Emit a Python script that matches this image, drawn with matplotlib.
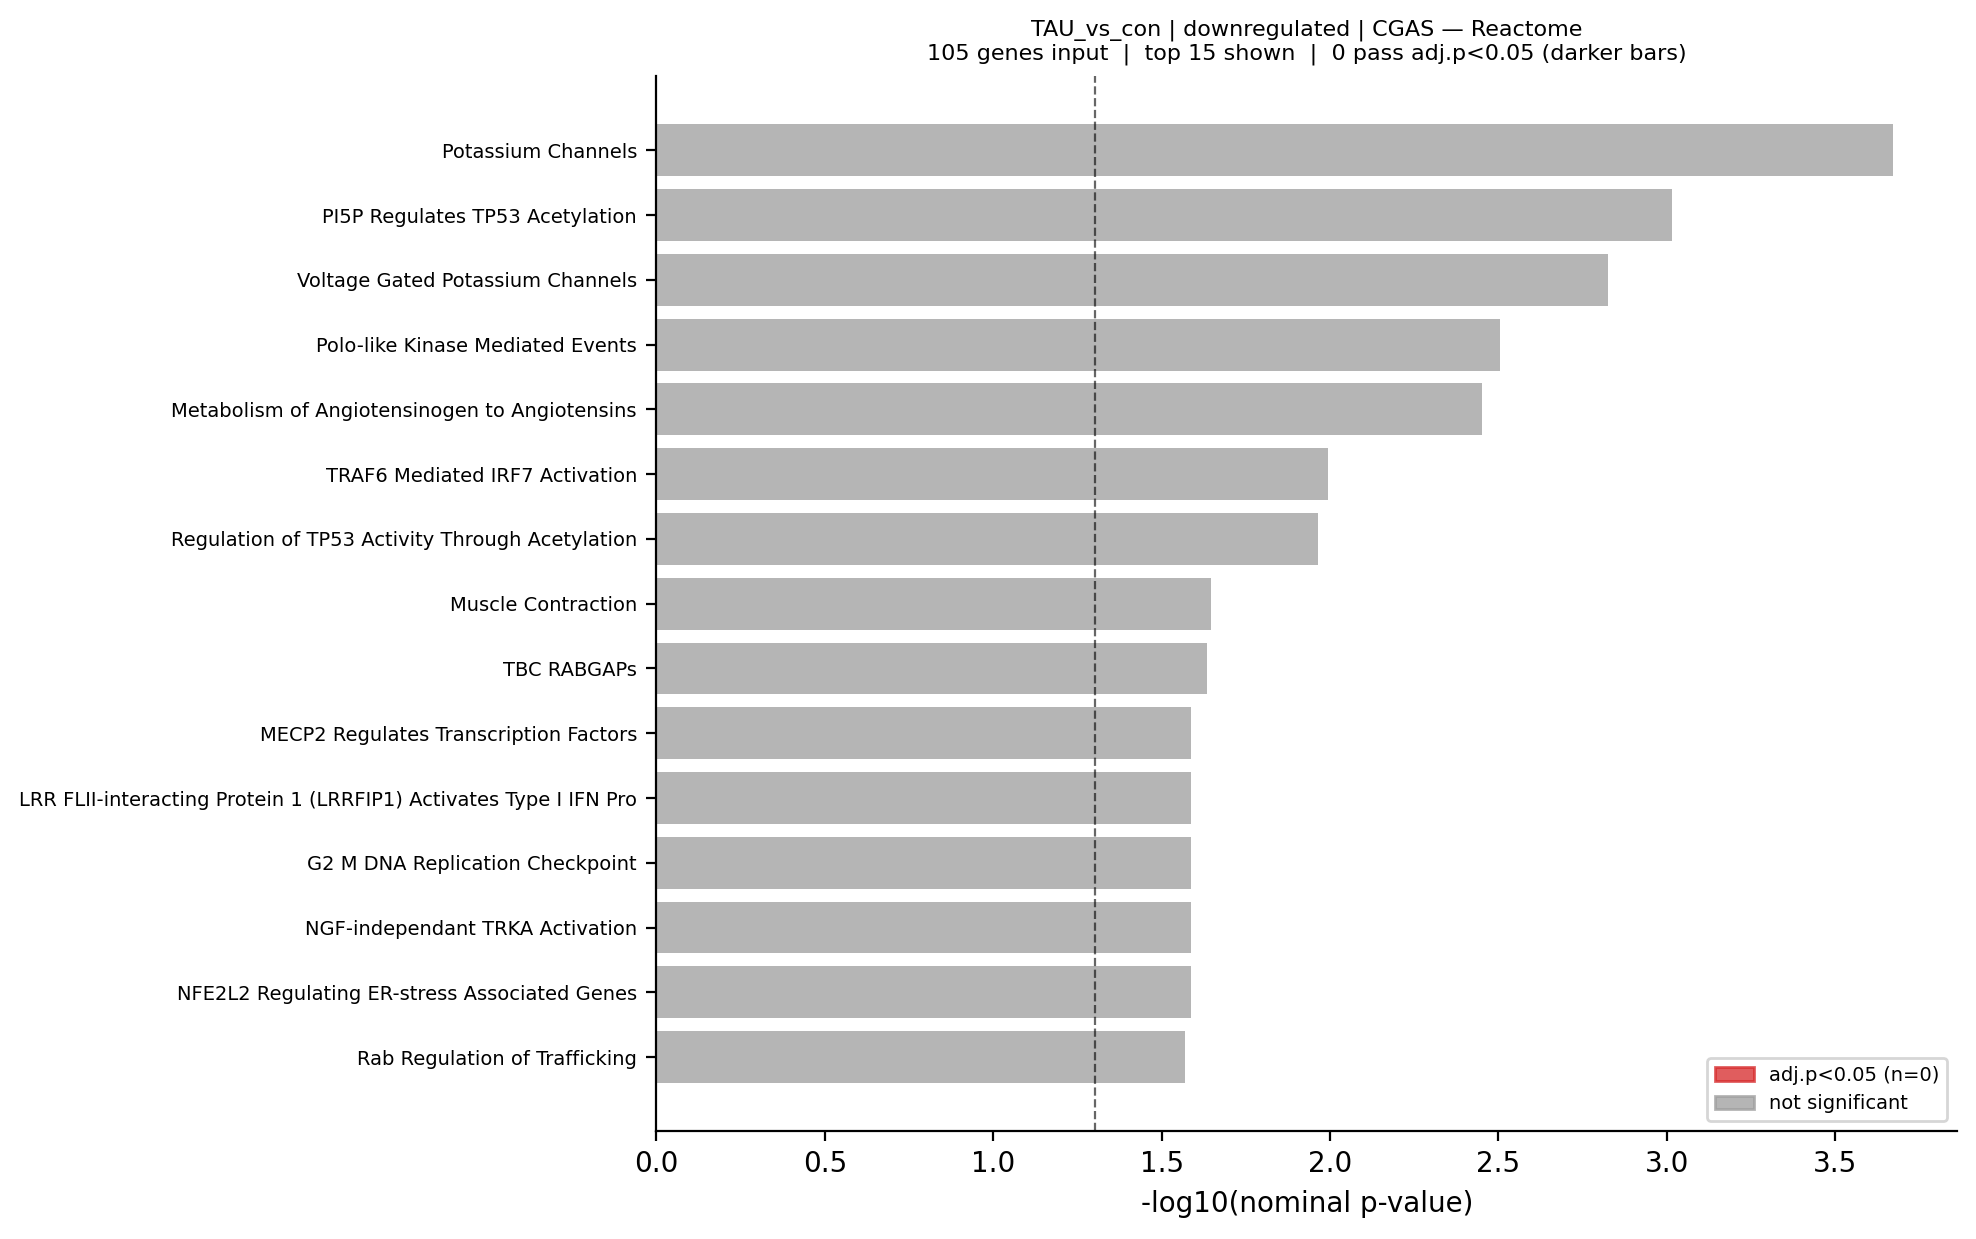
import matplotlib
matplotlib.use("Agg")
import matplotlib.pyplot as plt
from matplotlib.patches import Patch
import numpy as np

terms = [
    "Potassium Channels",
    "PI5P Regulates TP53 Acetylation",
    "Voltage Gated Potassium Channels",
    "Polo-like Kinase Mediated Events",
    "Metabolism of Angiotensinogen to Angiotensins",
    "TRAF6 Mediated IRF7 Activation",
    "Regulation of TP53 Activity Through Acetylation",
    "Muscle Contraction",
    "TBC RABGAPs",
    "MECP2 Regulates Transcription Factors",
    "LRR FLII-interacting Protein 1 (LRRFIP1) Activates Type I IFN Pro",
    "G2 M DNA Replication Checkpoint",
    "NGF-independant TRKA Activation",
    "NFE2L2 Regulating ER-stress Associated Genes",
    "Rab Regulation of Trafficking",
]
neglog_p = [3.672, 3.017, 2.826, 2.504, 2.452, 1.995, 1.965, 1.646, 1.634,
            1.587, 1.587, 1.587, 1.587, 1.587, 1.569]
significant = [False] * 15
threshold = -np.log10(0.05)

sig_color = "#d62728"
ns_color = "#9c9c9c"
alpha = 0.75

fig = plt.figure(figsize=(1976 / 200, 1239 / 200), dpi=200)
ax = fig.add_axes([0.3322, 0.0872, 0.9904 - 0.3322, 0.9383 - 0.0872])

y = np.arange(len(terms))
colors = [sig_color if s else ns_color for s in significant]
ax.barh(y, neglog_p, color=colors, alpha=alpha, height=0.8)
ax.set_yticks(y)
ax.set_yticklabels(terms, fontsize=7)
ax.invert_yaxis()
ax.axvline(threshold, color="k", alpha=0.6, linestyle="--", linewidth=0.8)
ax.set_xlim(0, 3.862)
ax.tick_params(axis="x", labelsize=10)
ax.set_xlabel("-log10(nominal p-value)", fontsize=10)
ax.spines["top"].set_visible(False)
ax.spines["right"].set_visible(False)

n_sig = sum(significant)
handles = [
    Patch(color=sig_color, alpha=alpha, label=f"adj.p<0.05 (n={n_sig})"),
    Patch(color=ns_color, alpha=alpha, label="not significant"),
]
ax.legend(handles=handles, loc="lower right", fontsize=7)

ax.set_title(
    "TAU_vs_con | downregulated | CGAS \u2014 Reactome\n"
    f"105 genes input  |  top 15 shown  |  {n_sig} pass adj.p<0.05 (darker bars)",
    fontsize=8,
)

fig.savefig("out.png", dpi=200)
